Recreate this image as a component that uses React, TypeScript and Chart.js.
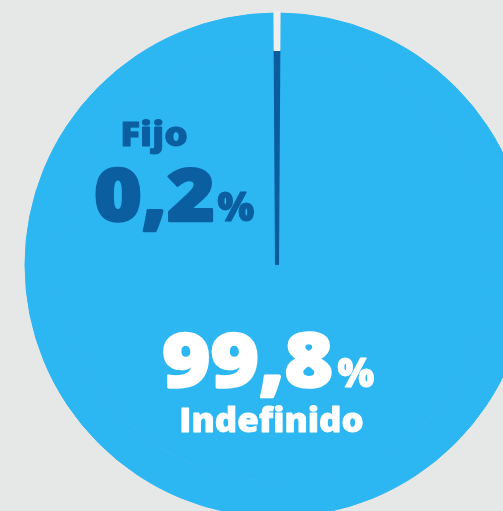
import React, { useEffect, useRef } from 'react';
import { Chart, registerables } from 'chart.js';

Chart.register(...registerables);

// Data
const categories = ['Indefinido', 'Fijo'];
const shares = [99.8, 0.2];

// Styles
const sliceColors = ['#2cb6f2', '#0a5c9c'];
const rimColors = ['#2cb6f2', '#eeeeee'];
const labelColors = ['#ffffff', '#0b5fa0'];
const BG = '#e6e7e7';
const FONT = '"Open Sans", "Noto Sans", sans-serif';

const W = 503;
const H = 511;
const CX = 277;
const CY = 265;
const R = 252;

const fmt = (v: number) => v.toFixed(1).replace('.', ',');

// draw heavy text so that its ink spans [left, left+width] on the given baseline
function drawFitted(
  ctx: CanvasRenderingContext2D,
  text: string,
  size: number,
  left: number,
  width: number,
  baseline: number,
  lw: number
) {
  ctx.font = `800 ${size}px ${FONT}`;
  const m = ctx.measureText(text);
  const abl = m.actualBoundingBoxLeft || 0;
  const abr = m.actualBoundingBoxRight || m.width;
  const ink = abl + abr;
  const s = ink > 0 ? (width - lw) / ink : 1;
  ctx.save();
  ctx.translate(left + lw / 2 + abl * s, baseline - lw / 2);
  ctx.scale(s, 1);
  ctx.lineJoin = 'round';
  ctx.lineWidth = lw;
  ctx.strokeStyle = ctx.fillStyle;
  ctx.fillText(text, 0, 0);
  if (lw > 0) ctx.strokeText(text, 0, 0);
  ctx.restore();
}

const labelPlugin = {
  id: 'sliceLabels',
  afterDatasetsDraw(chart: any) {
    const ctx = chart.ctx as CanvasRenderingContext2D;
    ctx.save();
    ctx.textBaseline = 'alphabetic';
    ctx.textAlign = 'left';

    // Fijo (small share)
    ctx.fillStyle = labelColors[1];
    drawFitted(ctx, categories[1], 33, 122, 65, 146, 0.8);
    drawFitted(ctx, fmt(shares[1]), 73, 95, 118, 222, 2.5);
    drawFitted(ctx, '%', 41, 217, 38, 222, 1.2);

    // Indefinido (large share)
    ctx.fillStyle = labelColors[0];
    drawFitted(ctx, fmt(shares[0]), 75, 163, 169, 388, 2.5);
    drawFitted(ctx, '%', 41, 337, 38, 388, 1.2);
    drawFitted(ctx, categories[0], 33, 181, 182, 432, 0.8);

    ctx.restore();
  },
};

export default function App() {
  const ref = useRef<HTMLCanvasElement | null>(null);

  useEffect(() => {
    if (!ref.current) return;
    const rotation = (shares[1] * 3.6) / 2;
    const chart = new Chart(ref.current, {
      type: 'pie',
      data: {
        labels: categories,
        datasets: [
          {
            data: shares,
            backgroundColor: rimColors,
            borderColor: rimColors,
            borderWidth: [1, 4],
            borderJoinStyle: 'miter',
            weight: 36,
          },
          {
            data: shares,
            backgroundColor: sliceColors,
            borderColor: sliceColors,
            borderWidth: [1, 4],
            weight: 216,
          },
        ],
      },
      options: {
        responsive: false,
        animation: false,
        rotation,
        radius: R,
        layout: { padding: 0 },
        plugins: {
          legend: { display: false },
          tooltip: { enabled: false },
        },
        events: [],
      },
      plugins: [labelPlugin],
    } as any);
    return () => chart.destroy();
  }, []);

  return (
    <div
      style={{
        position: 'fixed',
        left: 0,
        top: 0,
        width: W,
        height: H,
        overflow: 'hidden',
        background: BG,
      }}
    >
      <canvas
        ref={ref}
        width={CX * 2}
        height={CY * 2}
        style={{ position: 'absolute', left: 0, top: 0, width: CX * 2, height: CY * 2 }}
      />
    </div>
  );
}
